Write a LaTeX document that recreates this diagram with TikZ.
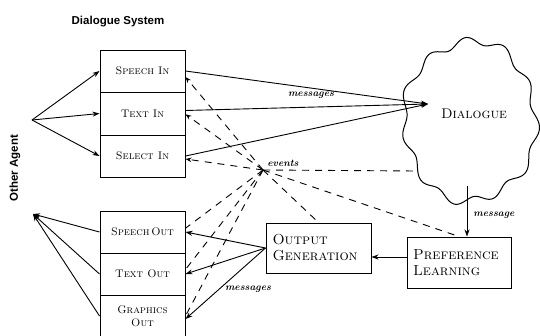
\documentclass[tikz,border=0pt]{standalone}
\usepackage{fontspec}
\newfontfamily\labsans{Liberation Sans}
\usetikzlibrary{arrows.meta,calc}
\begin{document}
\begin{tikzpicture}[x=1pt,y=-1pt,
  iobox/.style={draw, line width=1pt, minimum width=85pt, minimum height=42pt, inner sep=0pt, align=center, font=\fontsize{11}{13}\selectfont\scshape},
  procbox/.style={draw, line width=1pt, align=left, inner sep=0pt, font=\fontsize{14.5}{16}\selectfont\scshape},
  arr/.style={-{Stealth[length=7pt,width=5pt]}, line width=0.9pt},
  evt/.style={dash pattern=on 7pt off 6pt, line width=0.9pt},
  evtarr/.style={evt, -{Stealth[length=6pt,width=4.5pt]}},
  lab/.style={font=\fontsize{10}{10}\selectfont\bfseries\itshape, inner sep=1pt},
  title/.style={font=\labsans\fontsize{11.5}{11.5}\selectfont\bfseries}]
\useasboundingbox (0,0) rectangle (540,335);

% titles
\node[title] (dstitle) at (118,22) {Dialogue System};
\node[title, rotate=90] (oatitle) at (15,168) {Other Agent};

% input / output boxes
\node[iobox, minimum height=42pt] (SpeechIn) at (142.5,71) {Speech In};
\node[iobox, minimum height=43pt] (TextIn) at (142.5,113.5) {Text In};
\node[iobox, minimum height=42pt] (SelectIn) at (142.5,156) {Select In};
\node[iobox, minimum height=42pt] (SpeechOut) at (142.5,232) {Speech\,Out};
\node[iobox, minimum height=42pt] (TextOut) at (142.5,274) {Text Out};
\node[iobox, minimum height=42pt] (GraphicsOut) at (142.5,316) {Graphics\\Out};

% process boxes
\node[procbox, minimum width=105pt, minimum height=50pt, text width=92pt] (OutGen) at (318.5,248) {Output\\Generation};
\node[procbox, minimum width=104pt, minimum height=51pt, text width=92pt] (PrefL) at (459,262.5) {Preference\\Learning};

% dialogue cloud
\draw[line width=1pt] plot[smooth, samples=240, domain=0:358.5]
  ({470+66*(1+0.05*sin(11*\x+40)+0.02*sin(4*\x))*cos(\x)}, {121+80*(1+0.05*sin(11*\x+40)+0.02*sin(4*\x))*sin(\x)}) -- cycle;
\node[font=\fontsize{14}{14}\selectfont\scshape] (DlgText) at (474,114) {Dialogue};
\coordinate (dlg) at (428,104);
\coordinate (dlgev) at (417,171);
\coordinate (dlgb) at (467,186);

% fan points
\coordinate (oi) at (32,120);
\coordinate (oo) at (33,214);
\coordinate (hub) at (263,170);

% other agent -> inputs
\draw[arr] (oi) -- (SpeechIn.west);
\draw[arr] (oi) -- (TextIn.west);
\draw[arr] (oi) -- (SelectIn.west);

% outputs -> other agent
\draw[arr] (SpeechOut.west) -- (oo);
\draw[arr] (TextOut.west) -- (oo);
\draw[arr] (GraphicsOut.west) -- (oo);

% inputs -> dialogue
\draw[arr] (SpeechIn.east) -- (dlg);
\draw[arr] (TextIn.4) -- (dlg);
\draw[arr] (SelectIn.east) -- (dlg);
\node[lab] (msg1) at (311,95) {messages};

% events
\draw[evtarr] (hub) -- (SpeechIn.-8);
\draw[evtarr] (hub) -- (TextIn.-1);
\draw[evtarr] (hub) -- (SelectIn.-4);
\draw[evt] (hub) -- (SpeechOut.5);
\draw[evt] (hub) -- (TextOut.6);
\draw[evt] (hub) -- (GraphicsOut.east);
\draw[evt] (hub) -- (OutGen.north);
\draw[evt] (hub) -- (PrefL.north);
\draw[evt] (hub) -- (dlgev);
\node[lab] (evlab) at (283,163) {events};

% dialogue -> preference learning
\draw[arr, line width=0.7pt] (dlgb) -- (dlgb |- PrefL.north);
\node[lab] (msg2) at (494,215) {message};

% preference learning -> output generation
\draw[arr] ([yshift=5.5pt]PrefL.west) -- ([yshift=5.5pt]PrefL.west -| OutGen.east);

% output generation -> outputs
\draw[arr] (OutGen.west) -- (SpeechOut.east);
\draw[arr] (OutGen.west) -- (TextOut.east);
\draw[arr] (OutGen.west) -- (GraphicsOut.-4);
\node[lab] (msg3) at (248,289) {messages};
\end{tikzpicture}
\end{document}
